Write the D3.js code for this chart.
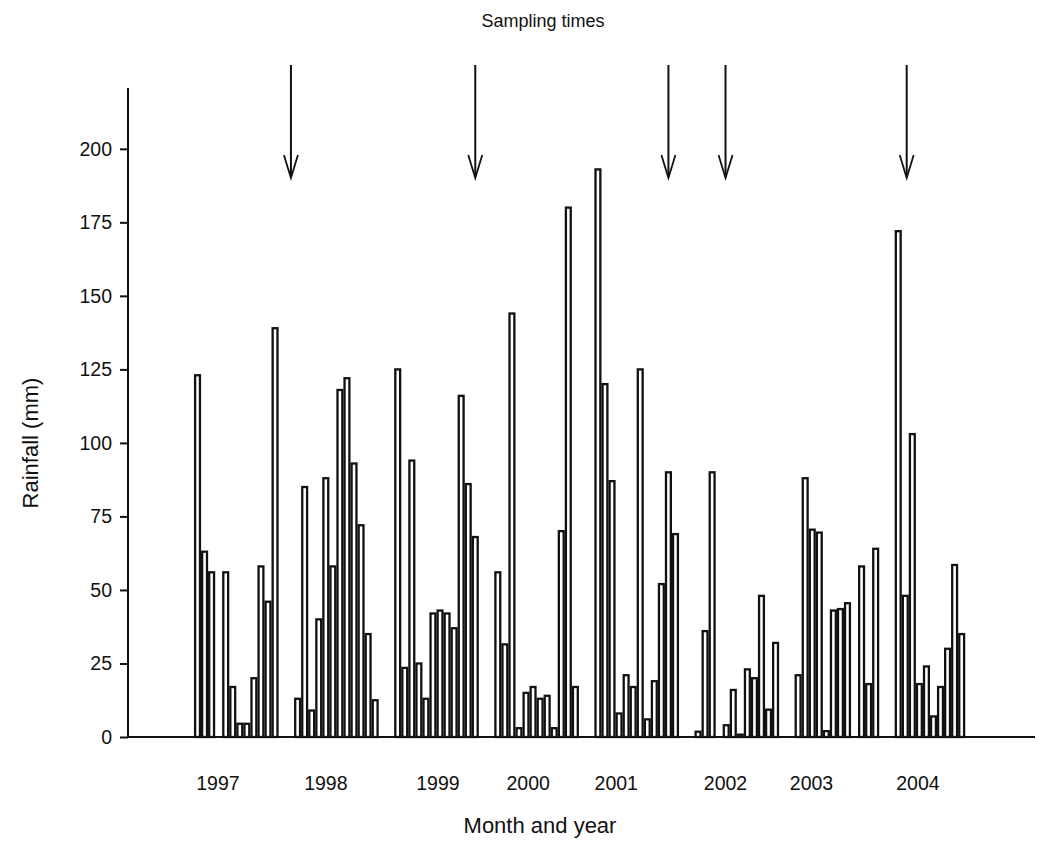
<!DOCTYPE html>
<html>
<head>
<meta charset="utf-8">
<script src="https://cdn.jsdelivr.net/npm/d3@7"></script>
<style>
    body { margin: 0; background: #fff; }
    text { font-family: "Liberation Sans", Arial, sans-serif; fill: #111; }
    .axis path, .axis line { stroke: #111; stroke-width: 2; }
    .axis text { font-size: 19.5px; }
</style>
</head>
<body>
<div id="rain-chart"></div>
<script>

// monthly rainfall (mm), one array per year, 12 slots each
var years = [1997, 1998, 1999, 2000, 2001, 2002, 2003, 2004];
var rain1997 = [123, 63, 56, 0, 56, 17, 4.5, 4.5, 20, 58, 46, 139];
var rain1998 = [13, 85, 9, 40, 88, 58, 118, 122, 93, 72, 35, 12.5];
var rain1999 = [125, 23.5, 94, 25, 13, 42, 43, 42, 37, 116, 86, 68];
var rain2000 = [56, 31.5, 144, 3, 15, 17, 13, 14, 3, 70, 180, 17];
var rain2001 = [193, 120, 87, 8, 21, 17, 125, 6, 19, 52, 90, 69];
var rain2002 = [1.8, 36, 90, 0, 4, 16, 0.8, 23, 20, 48, 9.3, 32];
var rain2003 = [21, 88, 70.5, 69.5, 2, 43, 43.5, 45.5, 0, 58, 18, 64];
var rain2004 = [172, 48, 103, 18, 24, 7, 17, 30, 58.5, 35, 0, 0];

var yTicks = [0, 25, 50, 75, 100, 125, 150, 175, 200];

// where the year labels and sampling arrows sit: [year, month position]
var yearLabelPos = [3.4, 4.5, 6.2, 4.8, 3.1, 4.4, 2.4, 3.3];
var samplingTimes = [[1998, -0.45], [1999, 11.5], [2001, 10.5], [2002, 4.4], [2004, 1.7]];

var rainByYear = [rain1997, rain1998, rain1999, rain2000, rain2001, rain2002, rain2003, rain2004];


RainChart = function(_parentElement, _data){
    this.parentElement = _parentElement;
    this.data = _data;
    this.displayData = [];

    this.initVis();
}

RainChart.prototype.initVis = function(){
    var vis = this;

    vis.margin = { top: 88, right: 4, bottom: 107, left: 128 };
    vis.width = 1039 - vis.margin.left - vis.margin.right;
    vis.height = 844 - vis.margin.top - vis.margin.bottom;

    vis.root = d3.select("#" + vis.parentElement).append("svg")
        .attr("width", 1039)
        .attr("height", 844);

    vis.svg = vis.root.append("g")
        .attr("transform", "translate(" + vis.margin.left + "," + vis.margin.top + ")");

    // outer band: years, inner band: months
    vis.xYear = d3.scaleBand()
        .domain(years)
        .range([66, 851.3])
        .paddingInner(0.155)
        .paddingOuter(0);

    vis.xMonth = d3.scaleBand()
        .domain(d3.range(12))
        .range([0, vis.xYear.bandwidth()])
        .padding(0);

    vis.y = d3.scaleLinear()
        .domain([0, 220])
        .range([vis.height, 2]);

    vis.yAxis = d3.axisLeft(vis.y)
        .tickValues(yTicks)
        .tickSize(8)
        .tickPadding(8)
        .tickSizeOuter(0);

    vis.svg.append("g")
        .attr("class", "y-axis axis")
        .call(vis.yAxis)
        .select(".domain")
        .attr("d", "M0," + vis.y(0) + "V0");

    // baseline
    vis.svg.append("line")
        .attr("x1", 0)
        .attr("x2", vis.width)
        .attr("y1", vis.y(0))
        .attr("y2", vis.y(0))
        .attr("stroke", "#111")
        .attr("stroke-width", 2);

    vis.wrangleData();
}

RainChart.prototype.wrangleData = function(){
    var vis = this;

    vis.displayData = [];
    vis.data.forEach(function(vals, i){
        vals.forEach(function(v, m){
            if (v > 0) vis.displayData.push({ year: years[i], month: m, value: v });
        });
    });

    vis.updateVis();
}

RainChart.prototype.xPos = function(year, pos){
    return this.xYear(year) + pos * this.xMonth.step();
}

RainChart.prototype.updateVis = function(){
    var vis = this;
    var bw = vis.xMonth.step();

    var bars = vis.svg.selectAll(".bar")
        .data(vis.displayData);

    bars.enter().append("rect")
        .attr("class", "bar")
        .merge(bars)
        .attr("x", function(d){ return vis.xYear(d.year) + vis.xMonth(d.month) + 1.1; })
        .attr("width", bw - 2.2)
        .attr("y", function(d){ return vis.y(d.value); })
        .attr("height", function(d){ return vis.y(0) - vis.y(d.value); })
        .attr("fill", "#fff")
        .attr("stroke", "#111")
        .attr("stroke-width", 2.3);

    bars.exit().remove();

    // year labels
    vis.svg.selectAll(".year-label")
        .data(years)
        .enter().append("text")
        .attr("class", "year-label")
        .attr("x", function(d, i){ return vis.xPos(d, yearLabelPos[i]); })
        .attr("y", vis.height + 53)
        .attr("text-anchor", "middle")
        .style("font-size", "19.5px")
        .text(function(d){ return d; });

    // sampling arrows
    var arrows = vis.svg.selectAll(".arrow")
        .data(samplingTimes)
        .enter().append("g")
        .attr("class", "arrow")
        .attr("transform", function(d){ return "translate(" + vis.xPos(d[0], d[1]) + ",0)"; });

    arrows.append("line")
        .attr("x1", 0).attr("x2", 0)
        .attr("y1", -23).attr("y2", 89)
        .attr("stroke", "#111")
        .attr("stroke-width", 2);

    arrows.append("path")
        .attr("d", "M-7,67L0,90L7,67")
        .attr("fill", "none")
        .attr("stroke", "#111")
        .attr("stroke-width", 1.8);

    // titles
    vis.root.append("text")
        .attr("x", 543)
        .attr("y", 27)
        .attr("text-anchor", "middle")
        .style("font-size", "18px")
        .text("Sampling times");

    vis.root.append("text")
        .attr("x", 540)
        .attr("y", 833)
        .attr("text-anchor", "middle")
        .style("font-size", "22px")
        .text("Month and year");

    vis.root.append("text")
        .attr("transform", "translate(38,443) rotate(-90)")
        .attr("text-anchor", "middle")
        .style("font-size", "22px")
        .text("Rainfall (mm)");
}

var chart = new RainChart("rain-chart", rainByYear);

</script>
</body>
</html>
